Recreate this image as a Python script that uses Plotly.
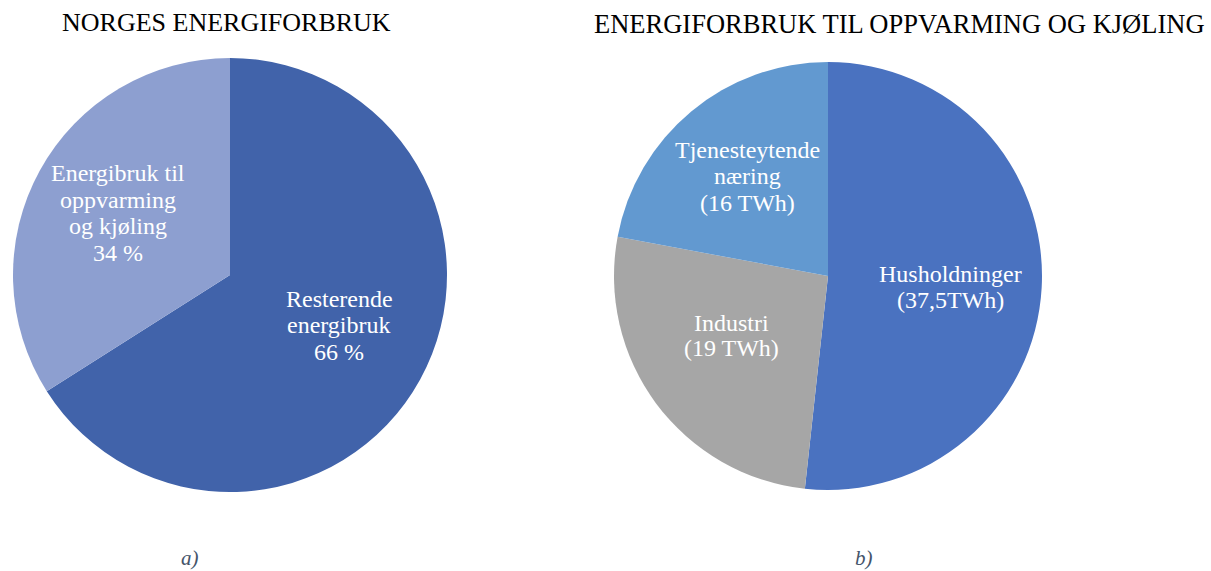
import plotly.graph_objects as go

# Data
left_labels = ["Resterende energibruk", "Energibruk til oppvarming og kjøling"]
left_values = [66, 34]
left_text_lines = [["Resterende", "energibruk", "66 %"],
                   ["Energibruk til", "oppvarming", "og kjøling", "34 %"]]
left_colors = ["#4163aa", "#8d9fd0"]

right_labels = ["Husholdninger", "Industri", "Tjenesteytende næring"]
right_values = [37.5, 19, 16]
right_text_lines = [["Husholdninger", "(37,5TWh)"],
                    ["Industri", "(19 TWh)"],
                    ["Tjenesteytende", "næring", "(16 TWh)"]]
right_colors = ["#4a72c0", "#a6a6a6", "#6299d0"]

W, H = 1211, 571
SERIF = "Liberation Serif, Times New Roman, serif"

fig = go.Figure()
fig.add_trace(go.Pie(
    labels=left_labels, values=left_values, sort=False, direction="clockwise", rotation=0,
    marker=dict(colors=left_colors, line=dict(width=0)), textinfo="none", hoverinfo="label+percent",
    domain=dict(x=[(230 - 217) / W, (230 + 217) / W], y=[(H - 492) / H, (H - 58) / H]),
    showlegend=False,
))
fig.add_trace(go.Pie(
    labels=right_labels, values=right_values, sort=False, direction="clockwise", rotation=0,
    marker=dict(colors=right_colors, line=dict(width=0)), textinfo="none", hoverinfo="label+value",
    domain=dict(x=[(828 - 214) / W, (828 + 214) / W], y=[(H - 490) / H, (H - 62) / H]),
    showlegend=False,
))

def px_ann(x, y, text, size=24, color="white", italic=False):
    fig.add_annotation(
        x=x / W, y=1 - y / H, xref="paper", yref="paper", text=text, showarrow=False,
        xanchor="center", yanchor="middle", align="center",
        font=dict(family=SERIF, size=size, color=color, style="italic" if italic else "normal"),
    )

def block(x, y0, lines, step=26.5, size=24):
    for i, line in enumerate(lines):
        px_ann(x, y0 + i * step, line, size=size)

# Slice labels
block(339, 299, left_text_lines[0])
block(118, 173, left_text_lines[1])
block(950, 274, right_text_lines[0], step=25.5)
block(731, 323, right_text_lines[1], step=24.5)
block(748, 150, right_text_lines[2], step=26.5)

# Titles
px_ann(226, 23, "NORGES ENERGIFORBRUK", size=26, color="black")
px_ann(900, 24, "ENERGIFORBRUK TIL OPPVARMING OG KJØLING", size=26.5, color="black")

# Sub-captions
px_ann(190, 558, "a)", size=21, color="#44546a", italic=True)
px_ann(864, 558, "b)", size=21, color="#44546a", italic=True)

fig.update_layout(
    width=W, height=H, margin=dict(l=0, r=0, t=0, b=0),
    paper_bgcolor="white", plot_bgcolor="white",
)
fig.write_html("out.html", config={"displayModeBar": False},
               post_script="document.body.style.margin='0';")
